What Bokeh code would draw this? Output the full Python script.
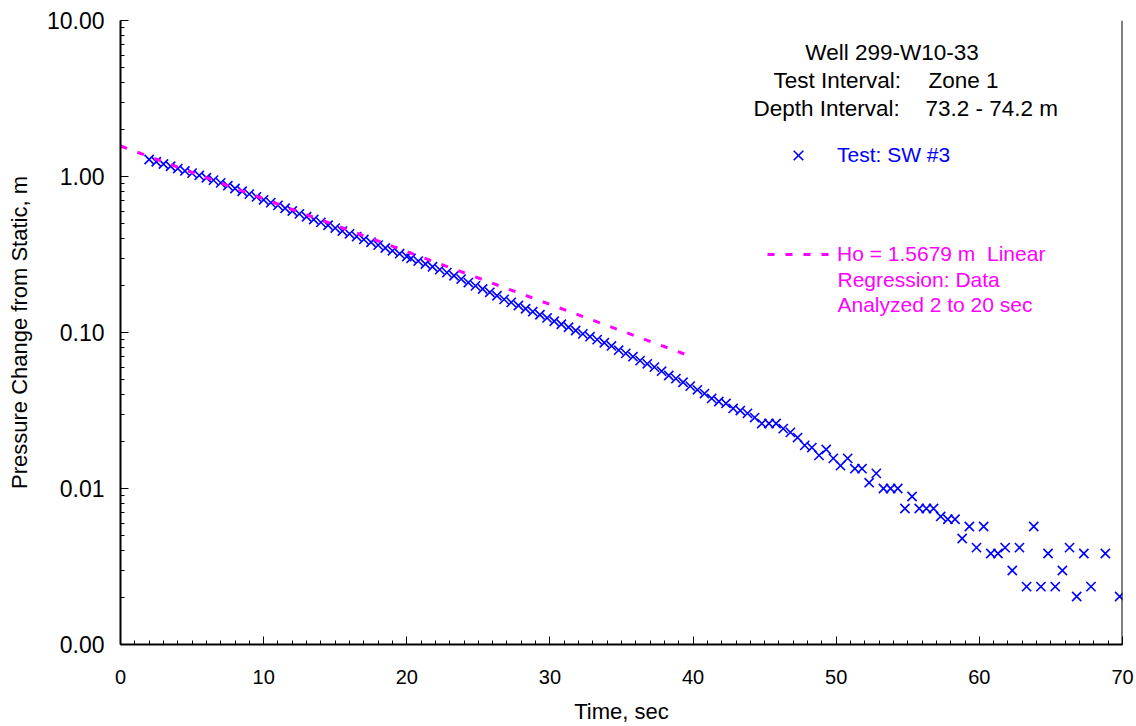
from bokeh.plotting import figure
from bokeh.models import (Range1d, FixedTicker, CustomJSTickFormatter, Label, Legend,
                          LegendItem, Span, ColumnDataSource)
from bokeh.embed import file_html
from bokeh.resources import INLINE

# ---- data ----
time_s = [2.0, 2.5, 3.0, 3.5, 4.0, 4.5, 5.0, 5.5, 6.0, 6.5, 7.0, 7.5, 8.0, 8.5, 9.0, 9.5,
          10.0, 10.5, 11.0, 11.5, 12.0, 12.5, 13.0, 13.5, 14.0, 14.5, 15.0, 15.5, 16.0, 16.5,
          17.0, 17.5, 18.0, 18.5, 19.0, 19.5, 20.0, 20.3, 20.8, 21.3, 21.8, 22.3, 22.8, 23.3,
          23.8, 24.3, 24.8, 25.3, 25.8, 26.3, 26.8, 27.3, 27.8, 28.3, 28.8, 29.3, 29.8, 30.3,
          30.8, 31.3, 31.8, 32.3, 32.8, 33.3, 33.8, 34.3, 34.8, 35.3, 35.8, 36.3, 36.8, 37.3,
          37.8, 38.3, 38.8, 39.3, 39.8, 40.3, 40.8, 41.3, 41.8, 42.3, 42.8, 43.3, 43.8, 44.3,
          44.8, 45.3, 45.8, 46.3, 46.8, 47.3, 47.8, 48.3, 48.8, 49.3, 49.8, 50.3, 50.8, 51.3,
          51.8, 52.3, 52.8, 53.3, 53.8, 54.3, 54.8, 55.3, 55.8, 56.3, 56.8, 57.3, 57.8, 58.3,
          58.8, 59.3, 59.8, 60.3, 60.8, 61.3, 61.8, 62.3, 62.8, 63.3, 63.8, 64.3, 64.8, 65.3,
          65.8, 66.3, 66.8, 67.3, 67.8, 68.8, 69.8]
pressure_m = [1.285, 1.243, 1.203, 1.163, 1.124, 1.086, 1.051, 1.016, 0.982, 0.948, 0.910,
              0.873, 0.838, 0.804, 0.771, 0.740, 0.709, 0.680, 0.653, 0.626, 0.601, 0.576,
              0.552, 0.530, 0.508, 0.487, 0.467, 0.447, 0.429, 0.412, 0.395, 0.379, 0.363,
              0.348, 0.334, 0.320, 0.307, 0.299, 0.287, 0.275, 0.264, 0.253, 0.242, 0.231,
              0.220, 0.209, 0.199, 0.190, 0.181, 0.172, 0.163, 0.156, 0.149, 0.142, 0.136,
              0.130, 0.124, 0.118, 0.113, 0.108, 0.103, 0.098, 0.094, 0.090, 0.086, 0.082,
              0.077, 0.0735, 0.070, 0.066, 0.063, 0.060, 0.0565, 0.053, 0.0506, 0.048, 0.0453,
              0.0429, 0.0406, 0.0378, 0.0361, 0.0351, 0.0326, 0.0316, 0.0303, 0.0285, 0.0261,
              0.0261, 0.0261, 0.0242, 0.0229, 0.0212, 0.0189, 0.0183, 0.0163, 0.0178, 0.0156,
              0.0140, 0.0156, 0.0134, 0.0134, 0.0109, 0.0125, 0.0100, 0.0100, 0.0100, 0.00744,
              0.00889, 0.00744, 0.00744, 0.00744, 0.00662, 0.00635, 0.00635, 0.00478, 0.00571,
              0.00418, 0.00571, 0.00383, 0.00383, 0.00418, 0.00298, 0.00418, 0.00235, 0.00571,
              0.00235, 0.00383, 0.00235, 0.00298, 0.00418, 0.00203, 0.00383, 0.00235, 0.00383,
              0.00203]
fit_time = [0.0, 39.5]
fit_pressure = [1.5679, 0.0722]

x_ticks = [0, 10, 20, 30, 40, 50, 60, 70]
y_ticks = [0.001, 0.01, 0.1, 1.0, 10.0]
y_tick_labels = ["0.00", "0.01", "0.10", "1.00", "10.00"]

FONT = "Liberation Sans"
BLUE = "#0000FF"
MAGENTA = "#FF00FF"

p = figure(frame_width=1002, frame_height=624,
           min_border_left=120, min_border_right=14, min_border_top=20, min_border_bottom=82,
           x_range=Range1d(0, 70), y_range=Range1d(0.001, 10), y_axis_type="log",
           output_backend="svg", toolbar_location=None)
p.outline_line_color = None
p.xgrid.grid_line_color = None
p.ygrid.grid_line_color = None
p.background_fill_color = "white"
p.border_fill_color = "white"

# data
src = ColumnDataSource(dict(t=time_s, h=pressure_m))
sc = p.scatter("t", "h", source=src, marker="x", size=13, line_color=BLUE, line_width=1.6)
fit_src = ColumnDataSource(dict(t=fit_time, h=fit_pressure))
ln = p.line("t", "h", source=fit_src, line_color=MAGENTA, line_width=3, line_dash="7 11")

# axes
xa = p.xaxis[0]
xa.ticker = FixedTicker(ticks=x_ticks, minor_ticks=list(range(0, 71)))
ya = p.yaxis[0]
ya.ticker = FixedTicker(ticks=y_ticks,
                        minor_ticks=[m * 10.0 ** e for e in range(-3, 1) for m in range(2, 10)])
ya.formatter = CustomJSTickFormatter(args=dict(vals=y_ticks, labs=y_tick_labels), code="""
for (let i = 0; i < vals.length; i++) {
  if (Math.abs(Math.log10(tick) - Math.log10(vals[i])) < 1e-6) return labs[i];
}
return "";
""")
for ax in (xa, ya):
    ax.axis_line_color = "black"
    ax.axis_line_width = 2
    ax.major_tick_in = 8
    ax.major_tick_out = 0
    ax.minor_tick_in = 4
    ax.minor_tick_out = 0
    ax.major_tick_line_color = "black"
    ax.minor_tick_line_color = "black"
    ax.major_label_text_font = FONT
    ax.major_label_text_color = "black"
    ax.axis_label_text_font = FONT
    ax.axis_label_text_font_style = "normal"
    ax.axis_label_text_color = "black"

xa.axis_label = "Time, sec"
xa.major_label_text_font_size = "20px"
xa.axis_label_text_font_size = "22px"
xa.major_label_standoff = 25
xa.axis_label_standoff = 12

ya.axis_label = "Pressure Change from Static, m"
ya.major_label_text_font_size = "23px"
ya.axis_label_text_font_size = "22px"
ya.major_label_standoff = 16
ya.axis_label_standoff = 12

p.add_layout(Span(location=70, dimension="height", line_color="black", line_width=2))

# header text
def lab(text, x, y, color="black", align="left", size="22.5px"):
    p.add_layout(Label(x=x, y=y, text=text, text_font=FONT, text_font_size=size,
                       text_color=color, text_align=align, text_baseline="middle"))

lab("Well 299-W10-33", 53.9, 6.235, align="center")
lab("Test Interval:", 45.62, 4.124)
lab("Zone 1", 56.45, 4.124)
lab("Depth Interval:", 44.22, 2.729)
lab("73.2 - 74.2 m", 56.24, 2.729)

# legends
leg1 = Legend(items=[LegendItem(label="Test: SW #3", renderers=[sc])], location=(661, 472),
              glyph_width=34, glyph_height=34, label_height=34, label_standoff=22,
              padding=0, margin=0, border_line_color=None, background_fill_alpha=0,
              label_text_font=FONT, label_text_font_size="21px", label_text_color=BLUE)
leg2 = Legend(items=[LegendItem(label="Ho = 1.5679 m  Linear", renderers=[ln])], location=(647, 377),
              glyph_width=63, glyph_height=26, label_height=26, label_standoff=7,
              padding=0, margin=0, border_line_color=None, background_fill_alpha=0,
              label_text_font=FONT, label_text_font_size="21px", label_text_color=MAGENTA)
p.add_layout(leg1)
p.add_layout(leg2)
lab("Regression: Data", 50.09, 0.2186, color=MAGENTA, size="21px")
lab("Analyzed 2 to 20 sec", 50.09, 0.1512, color=MAGENTA, size="21px")

open("out.html", "w").write(file_html(p, INLINE))
